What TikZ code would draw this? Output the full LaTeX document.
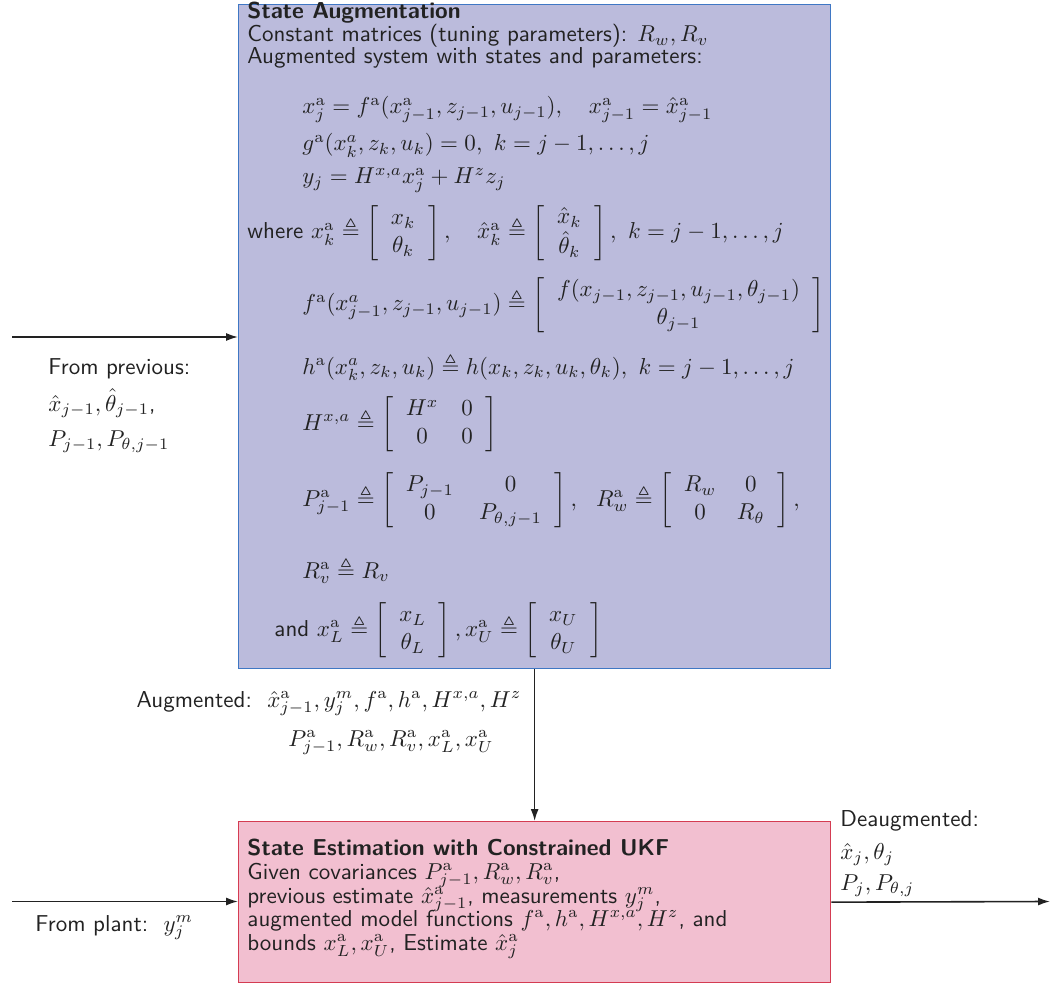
\documentclass[tikz,border=0pt]{standalone}
\usepackage{amsmath,amssymb}
\usetikzlibrary{arrows.meta}
\definecolor{augfill}{HTML}{BBBBDC}
\definecolor{augline}{HTML}{3F77C4}
\definecolor{ukffill}{HTML}{F2BFD0}
\definecolor{ukfline}{HTML}{D43C52}
\definecolor{ink}{HTML}{222222}
% upright superscript marking augmented quantities
\newcommand{\ua}{\mathrm{a}}
% bracketed column / 2x2 matrix with some padding
\newcommand{\bcol}[2]{\left[\begin{array}{@{\hspace{0.55em}}c@{\hspace{0.55em}}}#1\\#2\end{array}\right]}
\newcommand{\bmat}[5]{\left[\begin{array}{@{\hspace{0.55em}}c@{\hspace{#5}}c@{\hspace{0.55em}}}#1&#2\\#3&#4\end{array}\right]}
% block headings
\newcommand{\heading}[1]{{\bfseries #1}}
\begin{document}
\begin{tikzpicture}[x=1pt,y=-1pt,
  lbl/.style={scale=2.3, transform shape, inner sep=0pt, anchor=base west, text=ink, font=\sffamily},
  augbox/.style={draw=augline, fill=augfill, line width=1.3pt, anchor=north west, inner sep=0pt,
                 minimum width=592pt, minimum height=664pt},
  ukfbox/.style={draw=ukfline, fill=ukffill, line width=1.3pt, anchor=north west, inner sep=0pt,
                 minimum width=592pt, minimum height=161pt},
  flow/.style={draw=ink, line width=1.6pt, -{Latex[length=12pt,width=8pt]}},
]
\useasboundingbox (0,0) rectangle (1050,984);

% ---- boxes ----
\node[augbox] (aug) at (238,4) {};
\node[ukfbox] (ukf) at (238,821) {};

% ---- state augmentation block ----
\node[lbl] (augT) at (247,19) {\heading{State Augmentation}};
\node[lbl] (augC) at (247,42) {Constant matrices (tuning parameters): $R_w,R_v$};
\node[lbl] (augS) at (247,64) {Augmented system with states and parameters:};
\node[lbl] (eqA) at (302,114) {$x^\ua_j=f^\ua(x^\ua_{j-1},z_{j-1},u_{j-1}),\quad x^\ua_{j-1}=\hat{x}^\ua_{j-1}$};
\node[lbl] (eqB) at (302,151) {$g^\ua(x^a_k,z_k,u_k)=0,\ k=j-1,\ldots,j$};
\node[lbl] (eqC) at (302,184) {$y_j=H^{x,a}x^\ua_j+H^z z_j$};
\node[lbl] (eqD) at (247,239) {where $x^\ua_k\triangleq\bcol{x_k}{\theta_k},\quad
  \hat{x}^\ua_k\triangleq\bcol{\hat{x}_k}{\hat{\theta}_k},\ k=j-1,\ldots,j$};
\node[lbl] (eqE) at (302,311) {$f^\ua(x^a_{j-1},z_{j-1},u_{j-1})\triangleq
  \bcol{f(x_{j-1},z_{j-1},u_{j-1},\theta_{j-1})}{\theta_{j-1}}$};
\node[lbl] (eqF) at (302,374) {$h^\ua(x^a_k,z_k,u_k)\triangleq h(x_k,z_k,u_k,\theta_k),\ k=j-1,\ldots,j$};
\node[lbl] (eqG) at (302,430) {$H^{x,a}\triangleq\bmat{H^x}{0}{0}{0}{1em}$};
\node[lbl] (eqH) at (302,506) {$P^\ua_{j-1}\triangleq\bmat{P_{j-1}}{0}{0}{P_{\theta,j-1}}{1.1em},\ \
  R^\ua_w\triangleq\bmat{R_w}{0}{0}{R_\theta}{0.9em},$};
\node[lbl] (eqI) at (302,578) {$R^\ua_v\triangleq R_v$};
\node[lbl] (eqJ) at (274,636) {and $x^\ua_L\triangleq\bcol{x_L}{\theta_L},x^\ua_U\triangleq\bcol{x_U}{\theta_U}$};

% ---- constrained UKF block ----
\node[lbl] (ukfT) at (247,855) {\heading{State Estimation with Constrained UKF}};
\node[lbl] (ukfA) at (247,879) {Given covariances $P^\ua_{j-1},R^\ua_w,R^\ua_v$,};
\node[lbl] (ukfB) at (247,903) {previous estimate $\hat{x}^\ua_{j-1}$, measurements $y^m_j$,};
\node[lbl] (ukfC) at (247,926) {augmented model functions $f^\ua,h^\ua,H^{x,a},H^z$, and};
\node[lbl] (ukfD) at (247,950) {bounds $x^\ua_L,x^\ua_U$, Estimate $\hat{x}^\ua_j$};

% ---- connectors ----
\coordinate (prevsrc) at (12,337);
\coordinate (plantsrc) at (12,901.5);
\coordinate (outend) at (1050,901.5);
\draw[flow] (prevsrc) -- (prevsrc -| aug.west);
\draw[flow] (aug.south) -- (ukf.north);
\draw[flow] (plantsrc) -- (plantsrc -| ukf.west);
\draw[flow] (ukf.east) -- (outend);

% ---- connector labels ----
\node[lbl] (prevL1) at (48,374) {From previous:};
\node[lbl] (prevL2) at (48,411) {$\hat{x}_{j-1},\hat{\theta}_{j-1}$,};
\node[lbl] (prevL3) at (48,446) {$P_{j-1},P_{\theta,j-1}$};
\node[lbl, anchor=base east] (augL1) at (522,707) {Augmented:\ \ $\hat{x}^\ua_{j-1},y^m_j,f^\ua,h^\ua,H^{x,a},H^z$};
\node[lbl] (augL2) at (288,746) {$P^\ua_{j-1},R^\ua_w,R^\ua_v,x^\ua_L,x^\ua_U$};
\node[lbl] (plantL) at (35,931) {From plant:\ \ $y^m_j$};
\node[lbl] (outL1) at (840,826) {Deaugmented:};
\node[lbl] (outL2) at (840,859) {$\hat{x}_j,\theta_j$};
\node[lbl] (outL3) at (840,890) {$P_j,P_{\theta,j}$};
\end{tikzpicture}
\end{document}
